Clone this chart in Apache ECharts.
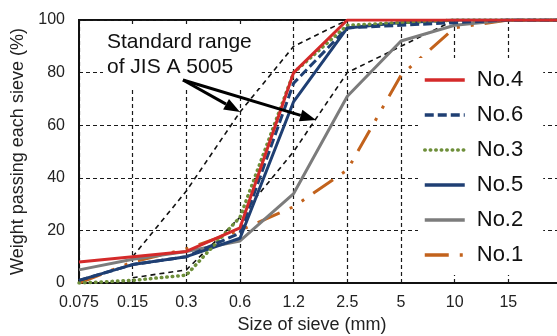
<!DOCTYPE html>
<html>
<head>
<meta charset="utf-8">
<script src="https://cdn.jsdelivr.net/npm/echarts@6/dist/echarts.min.js"></script>
<style>
  body { margin: 0; background: #fff; }
  #Graph { width: 557px; height: 336px; }
</style>
</head>
<body>
<div id="Graph"></div>
<script>
// sieve sizes (mm); last slot is the unlabelled edge of the plot
const sieves = ['0.075', '0.15', '0.3', '0.6', '1.2', '2.5', '5', '10', '15', ''];

// passing percentages
const no4 = [8, 10, 12, 21, 80, 100, 100, 100, 100, 100];
const no6 = [1, 7, 10, 19, 76, 97, 98, 99, 100, 100];
const no3 = [0, 1, 3, 25, 80, 98, 99, 100, 100, 100];
const no5 = [1, 7, 10, 17, 69, 97, 99, 100, 100, 100];
const no2 = [5, 9, 12, 16, 34, 71, 92, 98, 100, 100];
const no1 = [0, 8, 13, 20, 29, 43, 79, 97, 100, 100];

// JIS A 5005 standard range
const jisUpper = [null, 10, 35, 65, 90, 100, 100, 100, 100, 100];
const jisLower = [null, 2, 5, 25, 50, 80, 90, 100, 100, 100];

const yTicks = [0, 20, 40, 60, 80, 100];

const font = 'Liberation Sans, Arial, sans-serif';

function curve(name, data, color, type, width, cap) {
    return {
        name: name,
        type: 'line',
        data: data,
        symbol: 'circle',
        showSymbol: false,
        lineStyle: { color: color, width: width, type: type, cap: cap || 'butt' },
        itemStyle: { color: color },
        z: 3
    };
}

function range(data) {
    return {
        type: 'line',
        data: data,
        symbol: 'none',
        silent: true,
        lineStyle: { color: '#111', width: 1.6, type: [5, 4] },
        z: 2
    };
}

// arrow drawn as a shaft + triangle head
function arrow(x1, y1, x2, y2) {
    const a = Math.atan2(y2 - y1, x2 - x1);
    const len = 16, half = 6;
    const bx = x2 - len * Math.cos(a), by = y2 - len * Math.sin(a);
    const px = -Math.sin(a) * half, py = Math.cos(a) * half;
    return [
        { type: 'line', shape: { x1: x1, y1: y1, x2: bx, y2: by }, style: { stroke: '#000', lineWidth: 3 }, z: 20 },
        { type: 'polygon', shape: { points: [[x2, y2], [bx + px, by + py], [bx - px, by - py]] }, style: { fill: '#000' }, z: 20 }
    ];
}

let DrawChart = echarts.init(document.getElementById('Graph'), null, { renderer: 'canvas' });

let option = {
    animation: false,
    backgroundColor: '#fff',
    textStyle: { fontFamily: font },
    grid: {
        left: 79, right: -5, top: 20, bottom: 53,
        outerBoundsMode: 'none',
        containLabel: false,
        show: true, borderColor: '#111', borderWidth: 2, backgroundColor: 'transparent'
    },
    legend: {
        data: ['No.4', 'No.6', 'No.3', 'No.5', 'No.2', 'No.1'],
        orient: 'vertical',
        left: 418, top: 58,
        padding: [10, 20, 8, 5],
        backgroundColor: '#fff',
        itemWidth: 40, itemHeight: 14, itemGap: 11,
        itemStyle: { opacity: 0 },
        lineStyle: { width: 3.5 },
        textStyle: { fontSize: 22, color: '#111', fontFamily: font, lineHeight: 24, padding: [0, 0, 0, 7] },
        z: 10
    },
    xAxis: {
        type: 'category',
        data: sieves,
        boundaryGap: false,
        name: 'Size of sieve (mm)',
        nameLocation: 'middle',
        nameGap: 33,
        nameTextStyle: { fontSize: 18, color: '#222', padding: [0, 17, 0, 0] },
        axisLine: { lineStyle: { color: '#111', width: 2 } },
        axisTick: { show: false },
        axisLabel: { fontSize: 16, color: '#222', margin: 12, interval: 0 },
        splitLine: { show: true, lineStyle: { color: '#1a1a1a', type: [4, 3], width: 1.2 } }
    },
    yAxis: {
        type: 'value',
        min: yTicks[0], max: yTicks[yTicks.length - 1], interval: 20,
        name: 'Weight passing each sieve (%)',
        nameLocation: 'middle',
        nameGap: 51,
        nameTextStyle: { fontSize: 18, color: '#222' },
        axisLine: { show: true, lineStyle: { color: '#111', width: 2 } },
        axisTick: { show: false },
        axisLabel: { fontSize: 16, color: '#222', margin: 14 },
        splitLine: { show: true, lineStyle: { color: '#1a1a1a', type: [4, 3], width: 1.2 } }
    },
    series: [
        range(jisUpper),
        range(jisLower),
        curve('No.1', no1, '#c2621c', [24, 11, 3, 11, 3, 11], 3),
        curve('No.2', no2, '#7c7c7c', 'solid', 3),
        curve('No.5', no5, '#1f3f73', 'solid', 3),
        curve('No.3', no3, '#6e8f3a', [0.5, 5], 3.5, 'round'),
        curve('No.6', no6, '#1f3f73', [9, 4], 3),
        curve('No.4', no4, '#d42a2a', 'solid', 3)
    ],
    graphic: [
        {
            type: 'text', x: 103, y: 26, z: 15,
            style: {
                text: 'Standard range\nof JIS A 5005',
                font: '21px ' + font,
                fill: '#111',
                lineHeight: 25,
                backgroundColor: '#fff',
                padding: [4, 10, 8, 4]
            }
        }
    ].concat(arrow(183, 80, 240, 112), arrow(183, 80, 316, 120))
};

DrawChart.setOption(option);
</script>
</body>
</html>
